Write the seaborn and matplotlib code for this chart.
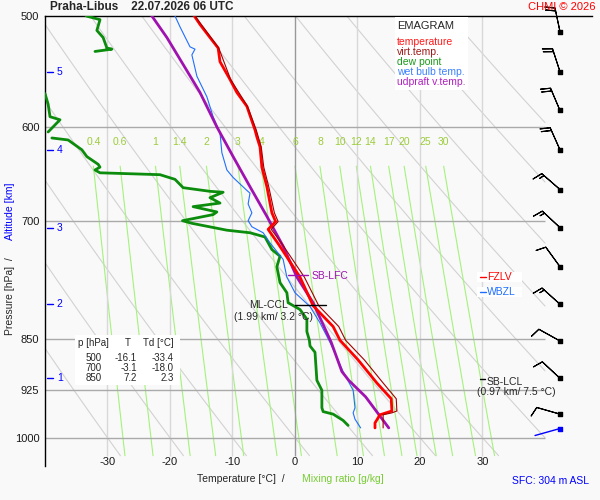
import numpy as np
import pandas as pd
import matplotlib
matplotlib.use("Agg")
import matplotlib.pyplot as plt
import matplotlib.patches as mpatches
import matplotlib.lines as mlines
import matplotlib.ticker as mticker
import seaborn as sns

# sounding (hPa / degC)
p_temp = [984, 976, 963, 957, 938, 914, 880, 852, 833, 805, 768, 728, 710, 701, 691,
          662, 641, 620, 610, 603, 580, 567, 555, 539, 527, 518, 507, 500]
temp = [12.8, 12.8, 13.6, 15.5, 15.4, 13.1, 10.1, 7.2, 6.1, 2.9, 0.8, -2.6, -4.3, -3.1, -3.7,
        -4.5, -5.3, -5.6, -6.1, -6.4, -7.7, -9.3, -10.4, -12.0, -12.3, -13.6, -15.2, -16.1]

p_virt = [984, 963, 960, 957, 938, 914, 880, 852, 833, 805, 768, 728, 710, 701, 691,
          662, 641, 620, 603, 580, 555, 527, 500]
virt_temp = [14.1, 14.1, 15.5, 16.3, 16.2, 14.1, 11.1, 8.1, 7.0, 3.8, 1.5, -2.0, -3.8, -2.7, -3.3,
             -4.2, -5.0, -5.4, -6.2, -7.6, -10.3, -12.2, -16.0]

# dew point is drawn in pieces: it leaves the chart (below -40 degC) twice
p_dew = [980, 972, 962, 958, 952, 925, 910, 869, 860, 852, 840, 823, 810, 801, 788, 775,
         755, 742, 734, 719, 714, 711, 703, 700, 693, 690, 684, 680, 674, 668, 667, 663,
         654, 649, 647, 644, 641, 638, 630, 623, 613, 611,
         605, 593, 590, 578, 568,
         530, 528, 527, 518, 512, 503, 500]
dew_point = [8.5, 7.7, 6.1, 4.5, 4.3, 4.3, 3.5, 3.2, 2.4, 2.3, 1.9, 1.9, 0.8, -1.1, -1.3, -2.4,
             -2.9, -2.4, -3.7, -4.8, -7.2, -10.9, -16.5, -18.0, -13.1, -12.5, -16.3, -12.0, -13.6, -11.5, -13.6, -17.9,
             -19.2, -21.6, -31.2, -32.0, -31.2, -31.5, -33.3, -34.1, -36.3, -38.9,
             -39.5, -37.6, -39.2, -39.5, -40.0,
             -32.0, -29.3, -30.1, -30.7, -31.7, -31.2, -33.4]
dew_piece = [0] * 42 + [1] * 5 + [2] * 7

p_wet = [984, 970, 960, 952, 925, 897, 855, 828, 806, 788, 768, 746, 726, 714, 707, 700,
         691, 681, 669, 666, 652, 644, 626, 606, 590, 571, 552, 533, 528, 526, 509, 500]
wet_bulb = [10.5, 9.6, 9.3, 9.6, 9.3, 7.7, 5.6, 4.0, 2.4, 0.0, -1.3, -1.9, -4.0, -5.1, -6.9, -7.5,
            -6.9, -7.5, -7.2, -7.7, -9.9, -10.9, -11.7, -12.0, -13.1, -14.1, -15.7, -16.5, -16.0, -16.8, -18.4, -19.2]

p_parcel = [984, 935, 910, 897, 855, 801, 768, 730, 695, 662, 630, 600, 567, 547, 518, 500]
parcel_tv = [15.0, 11.3, 8.6, 7.5, 5.8, 2.9, 0.3, -1.9, -4.5, -7.2, -9.9, -12.5, -15.2, -17.3, -20.5, -22.9]

wind_p = [513, 548, 584, 623, 665, 708, 755, 803, 853, 907, 962]
wind_dir = [348, 342, 337, 336, 311, 313, 324, 312, 299, 313, 286]
wind_kt = [20, 20, 20, 20, 15, 15, 10, 15, 10, 10, 10]
sfc_p = 985

alt_km = [1, 2, 3, 4, 5]
alt_p = [907, 803, 709, 623, 548]

mix_ratio = [0.4, 0.6, 1, 1.4, 2, 3, 4, 6, 8, 10, 12, 14, 17, 20, 25, 30]
dry_adiabat_t0 = [-30, -20, -10, 0, 10, 20, 30, 40, 50, 60, 70, 80, 90]

table_p = [500, 700, 850]
table_t = [-16.1, -3.1, 7.2]
table_td = [-33.4, -18.0, 2.3]

BG = "#f9f9f9"
sns.set_theme(style="white", rc={"axes.facecolor": BG, "figure.facecolor": BG})
plt.rcParams["font.family"] = ["Liberation Sans", "DejaVu Sans"]

fig = plt.figure(figsize=(6, 5), dpi=100)
ax = fig.add_axes([45 / 600, 34 / 500, 547 / 600, 450 / 500])
ax.set_yscale("log")


def ftext(px, py, s, **kw):
    # place text by pixel position of the 600x500 picture
    kw.setdefault("fontsize", 7.5)
    kw.setdefault("va", "center")
    return fig.text(px / 600, 1 - py / 500, s, **kw)


def fbox(x0, y0, x1, y1):
    fig.add_artist(mpatches.Rectangle((x0 / 600, 1 - y1 / 500), (x1 - x0) / 600, (y1 - y0) / 500,
                                      transform=fig.transFigure, facecolor="white",
                                      edgecolor="none", zorder=4))


def fdash(x0, x1, py, color):
    fig.add_artist(mlines.Line2D([x0 / 600, x1 / 600], [1 - py / 500] * 2, color=color,
                                 lw=1, transform=fig.transFigure, zorder=5))


# background isopleths
for t0 in dry_adiabat_t0:
    theta = t0 + 273.15
    p_bot = min(1030, 1000 * (313.15 / theta) ** (1 / 0.286))
    if p_bot <= 500:
        continue
    pp = np.geomspace(500, p_bot, 80)
    ax.plot(theta * (pp / 1000) ** 0.286 - 273.15, pp, color="#d2d2d2", lw=0.8, zorder=1)

for w in mix_ratio:
    pp = np.geomspace(640, 1030, 40)
    lg = np.log(w * pp / (622 + w) / 6.112)
    td = 243.5 * lg / (17.67 - lg)
    ax.plot(td, pp, color="#a4f27c", lw=0.8, zorder=1)
    ax.text(td[0], 615, f"{w:g}", ha="center", va="center", color="#9ccc3c", fontsize=7.5)

ax.hlines([600, 700, 850, 925, 1000], -40, 40, color="#aaaaaa", lw=1, zorder=1.5)
ax.vlines([-30, -20, -10, 10, 20, 30], 500, 1030, color="#d8d8d8", lw=1, zorder=1.2)
ax.vlines(0, 500, 1030, color="#999999", lw=1, zorder=1.5)


def profile(tvals, pvals, color, lw, pieces=None):
    df = pd.DataFrame({"T": tvals, "p": pvals,
                       "piece": pieces if pieces is not None else [0] * len(tvals)})
    sns.lineplot(data=df, x="T", y="p", units="piece", sort=False, estimator=None, color=color,
                 linewidth=lw, ax=ax, legend=False, zorder=3)


profile(dew_point, p_dew, "#0c8c0c", 2.0, dew_piece)
profile(wet_bulb, p_wet, "#1f6fff", 0.8)
profile(parcel_tv, p_parcel, "#a012b0", 2.0)
profile(temp, p_temp, "#ff0000", 2.0)
profile(virt_temp, p_virt, "#a00000", 0.8)

# wind barbs along the right edge
wd = np.radians(wind_dir)
spd = np.array(wind_kt, dtype=float)
bx = np.full(len(wind_p), 42.4)
ax.barbs(bx, wind_p, -spd * np.sin(wd), -spd * np.cos(wd), length=5.9, lw=0.8,
         color="black", flip_barb=True, clip_on=False, zorder=5)
ax.scatter(bx, wind_p, marker="s", s=5, color="black", zorder=6, clip_on=False)
ax.annotate("", xy=(42.4, sfc_p), xytext=(-25, -7), textcoords="offset pixels",
            arrowprops=dict(arrowstyle="-", color="blue", lw=1, shrinkA=0, shrinkB=0))
ax.scatter([42.4], [sfc_p], marker="s", s=5, color="blue", zorder=6)

# altitude marks
for km, p in zip(alt_km, alt_p):
    ax.plot([-39.7, -38.7], [p, p], color="blue", lw=1, zorder=3)
    ax.text(-38.1, p, str(km), color="blue", fontsize=7.5, va="center", ha="left")

# level markers
ax.plot([-1.1, 2.1], [765, 765], color="#a012b0", lw=1, zorder=3)
ax.plot([0, 5], [803.5, 803.5], color="black", lw=1, zorder=3)
ax.plot([29.6, 30.4], [908, 908], color="black", lw=1, zorder=3)

ax.set_xlim(-40, 47.52)
ax.set_ylim(1047.6, 500)
ax.set_xticks([])
ax.set_yticks([500, 600, 700, 850, 925, 1000])
ax.set_yticklabels(["500", "600", "700", "850", "925", "1000"])
ax.yaxis.set_minor_locator(mticker.NullLocator())
ax.tick_params(axis="y", length=0, pad=4, labelsize=8, labelcolor="#1a1a1a")
ax.set_xlabel("")
ax.set_ylabel("")
for side in ["right", "bottom"]:
    ax.spines[side].set_visible(False)
for side in ["top", "left"]:
    ax.spines[side].set_color("black")
    ax.spines[side].set_linewidth(1)

for t in [-30, -20, -10, 0, 10, 20, 30]:
    ax.text(t, 1040, str(t), ha="center", va="center", fontsize=8, color="#1a1a1a")

# header and footer texts
ftext(50, 7, "Praha-Libus    22.07.2026 06 UTC", fontweight="bold", fontsize=8.5)
ftext(596, 7, "CHMI © 2026", color="red", ha="right", fontsize=8)
ftext(512, 481, "SFC: 304 m ASL", color="blue")
ftext(197, 479, "Temperature [°C]  /")
ftext(302, 479, "Mixing ratio [g/kg]", color="#77cc33")
ftext(10, 335, "Pressure [hPa]  /", rotation=90, ha="center", va="bottom")
ftext(10, 183, "Altitude [km]", rotation=90, ha="center", va="top", color="blue")

# legend block
fbox(395, 17, 468, 90)
ftext(397, 26, "EMAGRAM", fontsize=8, zorder=5)
for i, (lab, col) in enumerate([("temperature", "#ff1a1a"), ("virt.temp.", "#a01818"),
                                ("dew point", "#1a9a1a"), ("wet bulb temp.", "#3a80ff"),
                                ("udpraft v.temp.", "#b020c0")]):
    ftext(397, 42 + 10 * i, lab, color=col, fontsize=7.5, zorder=5)

# value table
fbox(75, 335, 180, 385)
ftext(78, 343, "p [hPa]", fontsize=7, zorder=5)
ftext(128, 343, "T", fontsize=7, ha="center", zorder=5)
ftext(143, 343, "Td [°C]", fontsize=7, zorder=5)
for i, (p, t, td) in enumerate(zip(table_p, table_t, table_td)):
    y = 358 + 10 * i
    ftext(102, y, str(p), fontsize=7, ha="right", zorder=5)
    ftext(137, y, f"{t:.1f}", fontsize=7, ha="right", zorder=5)
    ftext(174, y, f"{td:.1f}", fontsize=7, ha="right", zorder=5)

# level labels
ftext(312, 276, "SB-LFC", color="#a012b0")
ftext(288, 305, "ML-CCL", ha="right")
ftext(274, 317, "(1.99 km/ 3.2 °C)", ha="center")
ftext(487, 382, "SB-LCL")
ftext(477, 392, "(0.97 km/ 7.5 °C)")
fbox(477, 272, 522, 282)
fbox(477, 287, 522, 297)
fdash(480, 486, 277, "red")
fdash(480, 486, 292, "#1f6fff")
ftext(487, 277, "FZLV", color="red", zorder=5)
ftext(487, 292, "WBZL", color="#1f6fff", zorder=5)

fig.savefig("out.png", dpi=100, facecolor=BG)
